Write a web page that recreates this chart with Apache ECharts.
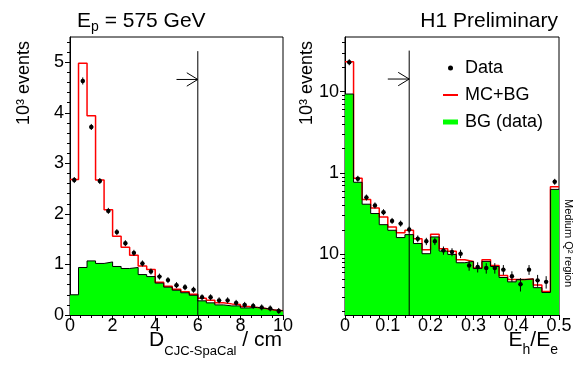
<!DOCTYPE html>
<html><head><meta charset="utf-8">
<script src="https://cdn.jsdelivr.net/npm/echarts@6/dist/echarts.min.js"></script>
<style>html,body{margin:0;padding:0;background:#fff}#c{width:584px;height:375px}</style>
</head><body><div id="c"></div>
<script>
// ---------- Left panel: D_CJC-SpaCal (cm), 0.4 cm bins ----------
const binWidthL = 0.4;
const bgL   = [0.40,0.94,1.07,1.02,1.05,0.96,0.92,0.94,0.80,0.76,0.63,0.55,0.49,0.44,0.39,0.28,0.24,0.20,0.18,0.18,0.14,0.15,0.13,0.10,0.085];
const mcbgL = [2.68,4.98,3.94,2.67,2.08,1.56,1.34,1.18,0.97,0.90,0.65,0.57,0.51,0.46,0.41,0.33,0.29,0.24,0.22,0.21,0.17,0.15,0.13,0.10,0.085];
const dataL = [2.67,4.63,3.72,2.65,2.06,1.64,1.42,1.23,1.02,0.86,0.76,0.69,0.59,0.55,0.50,0.35,0.35,0.29,0.29,0.24,0.20,0.18,0.15,0.13,0.08];
const errL  = [0.06,0.07,0.06,0.05,0.05,0.04,0.04,0.04,0.04,0.03,0.03,0.03,0.03,0.03,0.03,0.02,0.02,0.02,0.02,0.02,0.02,0.02,0.02,0.02,0.02];
const cutL = 6, cutTopL = 5.22, arrowL = [5.0, 6, 4.66];
const yMajorL = [0,1,2,3,4,5];
const xMinL = 0, xMaxL = 10, xStepL = 2, yMaxL = 5.5;

// ---------- Right panel: Eh/Ee, 0.02 bins, log scale ----------
const binWidthR = 0.02;
const bgR   = [9.36,0.77,0.414,0.318,0.232,0.198,0.161,0.175,0.136,0.102,0.164,0.110,0.100,0.079,0.082,0.067,0.082,0.071,0.052,0.046,0.049,0.050,0.039,0.034,0.63];
const mcbgR = [23.3,0.86,0.473,0.373,0.289,0.217,0.185,0.198,0.156,0.114,0.177,0.117,0.109,0.086,0.082,0.068,0.086,0.073,0.055,0.049,0.049,0.050,0.042,0.035,0.68];
const dataR = [23.0,0.85,0.50,0.40,0.33,0.258,0.239,0.202,0.156,0.145,0.145,0.112,0.107,0.102,0.073,0.070,0.068,0.068,0.065,0.054,0.043,0.065,0.048,0.046,0.78];
const errR  = [0.8,0.03,0.025,0.02,0.02,0.018,0.016,0.016,0.015,0.015,0.015,0.013,0.012,0.012,0.010,0.010,0.010,0.010,0.009,0.008,0.008,0.009,0.008,0.008,0.03];
const cutR = 0.15, cutTopR = 32, arrowR = [0.10, 0.15, 14.3];
const yMajorR = [0.1, 1, 10];
const yMajorLabelsR = ['10', '1', '10'];
const yMinR = 0.018, yMaxR = 47, xMaxR = 0.5, xStepR = 0.1;

const FONT = '"Liberation Sans", Arial, Helvetica, sans-serif';
const GREEN = '#00ff00', RED = '#ff0000';

function stepData(vals, w) {
  const d = vals.map((v, i) => [+(i * w).toFixed(4), v]);
  d.push([+(vals.length * w).toFixed(4), vals[vals.length - 1]]);
  return d;
}
function pointData(vals, errs, w) {
  return vals.map((v, i) => [+((i + 0.5) * w).toFixed(4), v, errs[i]]);
}
// minor tick positions
const yMinorL = [];
for (let k = 1; k * 0.2 < yMaxL; k++) if (k % 5) yMinorL.push(+(k * 0.2).toFixed(2));
const yMinorR = [];
[0.01, 0.1, 1, 10].forEach(dec => { for (let m = 2; m <= 9; m++) { const v = +(m * dec).toPrecision(3); if (v > yMinR && v < yMaxR) yMinorR.push(v); } });

function renderPoint(params, api) {
  const x = api.value(0), y = api.value(1), e = api.value(2);
  const c = api.coord([x, y]);
  const lo = api.coord([x, y - e]), hi = api.coord([x, y + e]);
  const y1 = Math.max(lo[1], c[1] + 3), y2 = Math.min(hi[1], c[1] - 3);
  return { type: 'group', children: [
    { type: 'line', shape: { x1: c[0], y1: y1, x2: c[0], y2: y2 }, style: { stroke: '#000', lineWidth: 1 } },
    { type: 'line', shape: { x1: c[0] - 2, y1: c[1], x2: c[0] + 2, y2: c[1] }, style: { stroke: '#000', lineWidth: 1 } },
    { type: 'circle', shape: { cx: c[0], cy: c[1], r: 2.2 }, style: { fill: '#000' } }
  ]};
}
function renderCut(params, api) {
  const top = api.coord([api.value(0), api.value(1)]);
  const bottom = params.coordSys.y + params.coordSys.height;
  return { type: 'line', shape: { x1: top[0], y1: top[1], x2: top[0], y2: bottom }, style: { stroke: '#000', lineWidth: 1 } };
}
function renderArrow(params, api) {
  const p0 = api.coord([api.value(0), api.value(2)]);
  const p1 = api.coord([api.value(1), api.value(2)]);
  const st = { stroke: '#000', lineWidth: 1 };
  return { type: 'group', children: [
    { type: 'line', shape: { x1: p0[0], y1: p0[1], x2: p1[0], y2: p1[1] }, style: st },
    { type: 'line', shape: { x1: p1[0] - 11, y1: p1[1] - 6.7, x2: p1[0], y2: p1[1] }, style: st },
    { type: 'line', shape: { x1: p1[0] - 11, y1: p1[1] + 6.7, x2: p1[0], y2: p1[1] }, style: st }
  ]};
}

const axisLabelStyle = { color: '#000', fontSize: 18, fontFamily: FONT };
const blackLine = { color: '#000', width: 1 };

function histSeries(xi, yi, bg, mcbg, data, err, w, cut, cutTop, arrow) {
  return [
    { type: 'line', name: 'BG (data)', xAxisIndex: xi, yAxisIndex: yi, data: stepData(bg, w), step: 'end', symbol: 'none',
      lineStyle: { width: 0, opacity: 0 }, areaStyle: { color: GREEN, opacity: 1, origin: 'start' }, z: 1, silent: true },
    { type: 'line', name: 'MC+BG', xAxisIndex: xi, yAxisIndex: yi, data: stepData(mcbg, w), step: 'end', symbol: 'none',
      lineStyle: { color: RED, width: 1.5 }, z: 2, silent: true },
    { type: 'line', name: 'BG outline', xAxisIndex: xi, yAxisIndex: yi, data: stepData(bg, w), step: 'end', symbol: 'none',
      lineStyle: { color: '#000', width: 1 }, z: 3, silent: true },
    { type: 'custom', name: 'Data', xAxisIndex: xi, yAxisIndex: yi, data: pointData(data, err, w),
      encode: { x: 0, y: 1 }, renderItem: renderPoint, z: 5, silent: true },
    { type: 'custom', name: 'cut', xAxisIndex: xi, yAxisIndex: yi, data: [[cut, cutTop]],
      encode: { x: 0, y: 1 }, renderItem: renderCut, z: 6, silent: true },
    { type: 'custom', name: 'arrow', xAxisIndex: xi, yAxisIndex: yi, data: [arrow],
      encode: { x: [0, 1], y: 2 }, renderItem: renderArrow, z: 6, silent: true }
  ];
}

const chart = echarts.init(document.getElementById('c'));
chart.setOption({
  animation: false,
  backgroundColor: '#fff',
  grid: [
    { left: 70, top: 37, width: 213, height: 278, show: true, borderColor: '#000', borderWidth: 1, backgroundColor: 'transparent' },
    { left: 345, top: 37, width: 214, height: 278, show: true, borderColor: '#000', borderWidth: 1, backgroundColor: 'transparent' }
  ],
  xAxis: [
    { gridIndex: 0, type: 'value', position: 'bottom', min: xMinL, max: xMaxL, interval: xStepL,
      axisLine: { show: true, lineStyle: blackLine }, axisTick: { show: true, length: 5, lineStyle: blackLine },
      minorTick: { show: true, splitNumber: 4, length: 3, lineStyle: blackLine },
      splitLine: { show: false }, minorSplitLine: { show: false },
      axisLabel: Object.assign({ margin: 2 }, axisLabelStyle) },
    { gridIndex: 1, type: 'value', position: 'bottom', min: 0, max: xMaxR, interval: xStepR,
      axisLine: { show: true, lineStyle: blackLine }, axisTick: { show: true, length: 5, lineStyle: blackLine },
      minorTick: { show: true, splitNumber: 5, length: 3, lineStyle: blackLine },
      splitLine: { show: false }, minorSplitLine: { show: false },
      axisLabel: Object.assign({ margin: 2 }, axisLabelStyle) }
  ],
  yAxis: [
    { gridIndex: 0, type: 'value', position: 'left', offset: 0, min: 0, max: yMaxL,
      axisLine: { show: true, lineStyle: blackLine },
      axisTick: { show: true, length: 5, lineStyle: blackLine, customValues: yMajorL },
      axisLabel: Object.assign({ margin: 6, customValues: yMajorL }, axisLabelStyle),
      splitLine: { show: false } },
    { gridIndex: 0, type: 'value', position: 'left', offset: 0, min: 0, max: yMaxL,
      axisLine: { show: false }, axisLabel: { show: false }, splitLine: { show: false },
      axisTick: { show: true, length: 3, lineStyle: blackLine, customValues: yMinorL } },
    { gridIndex: 1, type: 'log', logBase: 10, position: 'left', offset: 0, min: yMinR, max: yMaxR,
      axisLine: { show: true, lineStyle: blackLine },
      axisTick: { show: true, length: 5, lineStyle: blackLine, customValues: yMajorR },
      axisLabel: Object.assign({ margin: 6, customValues: yMajorR,
        formatter: v => { let best = 0; yMajorR.forEach((t, i) => { if (Math.abs(Math.log10(t) - Math.log10(v)) < Math.abs(Math.log10(yMajorR[best]) - Math.log10(v))) best = i; }); return yMajorLabelsR[best]; } }, axisLabelStyle),
      splitLine: { show: false } },
    { gridIndex: 1, type: 'log', logBase: 10, position: 'left', offset: 0, min: yMinR, max: yMaxR,
      axisLine: { show: false }, axisLabel: { show: false }, splitLine: { show: false },
      axisTick: { show: true, length: 3, lineStyle: blackLine, customValues: yMinorR } }
  ],
  legend: {
    orient: 'vertical', left: 438, top: 54, itemWidth: 15, itemHeight: 5, itemGap: 9,
    symbolKeepAspect: true, selectedMode: false,
    textStyle: { color: '#000', fontSize: 18, fontFamily: FONT, padding: [0, 0, 0, 2] },
    data: [
      { name: 'Data', icon: 'circle', itemStyle: { color: '#000', borderWidth: 0 } },
      { name: 'MC+BG', icon: 'path://M0,0H15V2H0Z', itemStyle: { color: RED, borderWidth: 0 } },
      { name: 'BG (data)', icon: 'path://M0,0H15V5H0Z', itemStyle: { color: GREEN, borderWidth: 0 } }
    ]
  },
  graphic: [
    { type: 'text', x: 77, y: 10.3, style: { text: '{m|E}{s|p}{m| = 575 GeV}', verticalAlign: 'top', fill: '#000',
      rich: { m: { fontSize: 21, fontFamily: FONT, lineHeight: 20, verticalAlign: 'top', fill: '#000' },
              s: { fontSize: 14, fontFamily: FONT, lineHeight: 20, verticalAlign: 'top', padding: [10, 0, 0, 0], fill: '#000' } } } },
    { type: 'text', x: 558, y: 10.9, style: { text: 'H1 Preliminary', align: 'right', verticalAlign: 'top', fill: '#000',
      fontSize: 21, fontFamily: FONT, lineHeight: 20 } },
    { type: 'text', x: 24, y: 83, rotation: Math.PI / 2, style: { text: '10³ events', align: 'center', verticalAlign: 'middle', fill: '#000', fontSize: 18, fontFamily: FONT } },
    { type: 'text', x: 307, y: 83, rotation: Math.PI / 2, style: { text: '10³ events', align: 'center', verticalAlign: 'middle', fill: '#000', fontSize: 18, fontFamily: FONT } },
    { type: 'text', x: 282, y: 329.3, style: { text: '{m|D}{s|CJC-SpaCal}{m| / cm}', align: 'right', verticalAlign: 'top', fill: '#000',
      rich: { m: { fontSize: 21, fontFamily: FONT, lineHeight: 20, verticalAlign: 'top', fill: '#000' },
              s: { fontSize: 13, fontFamily: FONT, lineHeight: 20, verticalAlign: 'top', padding: [16, 0, 0, 0], fill: '#000' } } } },
    { type: 'text', x: 558, y: 329.3, style: { text: '{m|E}{s|h}{m|/E}{s|e}', align: 'right', verticalAlign: 'top', fill: '#000',
      rich: { m: { fontSize: 21, fontFamily: FONT, lineHeight: 20, verticalAlign: 'top', fill: '#000' },
              s: { fontSize: 14, fontFamily: FONT, lineHeight: 20, verticalAlign: 'top', padding: [14, 0, 0, 0], fill: '#000' } } } },
    { type: 'text', x: 568, y: 243, rotation: -Math.PI / 2, style: { text: 'Medium Q² region', align: 'center', verticalAlign: 'middle', fill: '#000', fontSize: 11, fontFamily: FONT } }
  ],
  series: [].concat(
    histSeries(0, 0, bgL, mcbgL, dataL, errL, binWidthL, cutL, cutTopL, arrowL),
    histSeries(1, 2, bgR, mcbgR, dataR, errR, binWidthR, cutR, cutTopR, arrowR)
  )
});
</script></body></html>
